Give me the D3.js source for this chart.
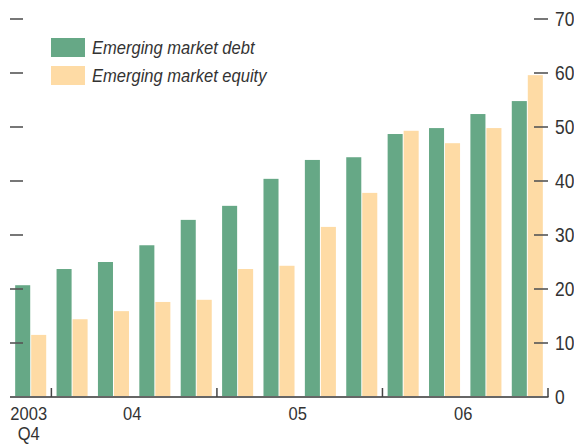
<!DOCTYPE html>
<html>
<head>
<meta charset="utf-8">
<script src="https://cdn.jsdelivr.net/npm/d3@7"></script>
<style>
  body { margin: 0; background: #fff; }
  svg { display: block; }
  text { font-family: "Liberation Sans Narrow", "Arial Narrow", "Liberation Sans", sans-serif; fill: #333; }
</style>
</head>
<body>
<svg width="574" height="444"></svg>
<script>
var quarters = ["2003Q4", "2004Q1", "2004Q2", "2004Q3", "2004Q4",
                "2005Q1", "2005Q2", "2005Q3", "2005Q4",
                "2006Q1", "2006Q2", "2006Q3", "2006Q4"];
var debt   = [20.7, 23.7, 25.0, 28.1, 32.8, 35.4, 40.4, 43.9, 44.4, 48.7, 49.8, 52.4, 54.8];
var equity = [11.5, 14.4, 15.9, 17.6, 18.0, 23.7, 24.3, 31.5, 37.8, 49.3, 47.0, 49.8, 59.6];
var seriesNames = ["Emerging market debt", "Emerging market equity"];
var yTicks = [0, 10, 20, 30, 40, 50, 60, 70];
var yearLabels = [
    { text: ["2003", "Q4"], from: "2003Q4", to: "2003Q4" },
    { text: ["04"], from: "2004Q1", to: "2004Q4" },
    { text: ["05"], from: "2005Q1", to: "2005Q4" },
    { text: ["06"], from: "2006Q1", to: "2006Q4" }
];

var colors = ["#66a886", "#fedba5"];
var squeeze = 0.87;   // narrow the regular font to look condensed

var svg = d3.select("svg");
var plotLeft = 10, plotRight = 548, plotBase = 397, plotTop = 19;

var x = d3.scaleBand()
    .domain(quarters)
    .range([plotLeft, plotRight])
    .paddingInner(0.25)
    .paddingOuter(0.125);

var x1 = d3.scaleBand()
    .domain([0, 1])
    .range([0, x.bandwidth()])
    .paddingInner(0.06);

var y = d3.scaleLinear()
    .domain([0, 70])
    .range([plotBase, plotTop]);

// bars
var rows = quarters.map(function (q, i) { return { q: q, vals: [debt[i], equity[i]] }; });

var grp = svg.append("g").selectAll("g")
    .data(rows)
    .enter().append("g")
    .attr("transform", function (d) { return "translate(" + x(d.q) + ",0)"; });

grp.selectAll("rect")
    .data(function (d) { return d.vals.map(function (v, k) { return { k: k, v: v }; }); })
    .enter().append("rect")
    .attr("x", function (d) { return x1(d.k); })
    .attr("width", x1.bandwidth())
    .attr("y", function (d) { return y(d.v); })
    .attr("height", function (d) { return plotBase - y(d.v); })
    .attr("fill", function (d) { return colors[d.k]; });

// tick marks on both sides (no left labels)
var tickVals = yTicks.filter(function (t) { return t > 0; });
[[10, 23], [534, 548]].forEach(function (xs) {
    svg.append("g").selectAll("line")
        .data(tickVals)
        .enter().append("line")
        .attr("x1", xs[0]).attr("x2", xs[1])
        .attr("y1", function (d) { return y(d); })
        .attr("y2", function (d) { return y(d); })
        .attr("stroke", "#555").attr("stroke-width", 1.6);
});

// right axis labels
svg.append("g").selectAll("text")
    .data(yTicks)
    .enter().append("text")
    .attr("font-size", 20)
    .attr("transform", function (d) { return "translate(555," + (y(d) + 7) + ") scale(" + squeeze + ",1)"; })
    .text(function (d) { return d; });

// baseline and year separators
svg.append("line")
    .attr("x1", plotLeft).attr("x2", plotRight + 0.5)
    .attr("y1", plotBase).attr("y2", plotBase)
    .attr("stroke", "#666").attr("stroke-width", 2);

var seps = ["2004Q1", "2005Q1", "2006Q1"].map(function (q) { return x(q) - x.step() * x.paddingInner() / 2; });
seps.push(plotRight);
svg.append("g").selectAll("line")
    .data(seps)
    .enter().append("line")
    .attr("x1", function (d) { return d; }).attr("x2", function (d) { return d; })
    .attr("y1", plotBase - 9).attr("y2", plotBase)
    .attr("stroke", "#444").attr("stroke-width", 1.5);

// x labels
var xl = svg.append("g").selectAll("g")
    .data(yearLabels)
    .enter().append("g")
    .attr("transform", function (d) {
        var cx = (x(d.from) + x(d.to) + x.bandwidth()) / 2 - 2;
        return "translate(" + cx + ",0) scale(" + squeeze + ",1)";
    });
xl.selectAll("text")
    .data(function (d) { return d.text; })
    .enter().append("text")
    .attr("text-anchor", "middle")
    .attr("font-size", 19)
    .attr("y", function (d, i) { return 420 + i * 20; })
    .text(function (d) { return d; });

// legend
var leg = svg.append("g").selectAll("g")
    .data(seriesNames)
    .enter().append("g")
    .attr("transform", function (d, i) { return "translate(51," + (38 + i * 28) + ")"; });
leg.append("rect")
    .attr("width", 34).attr("height", 19)
    .attr("fill", function (d, i) { return colors[i]; });
leg.append("text")
    .attr("transform", "translate(41,16) scale(" + squeeze + ",1)")
    .attr("font-size", 19)
    .attr("font-style", "italic")
    .text(function (d) { return d; });
</script>
</body>
</html>
